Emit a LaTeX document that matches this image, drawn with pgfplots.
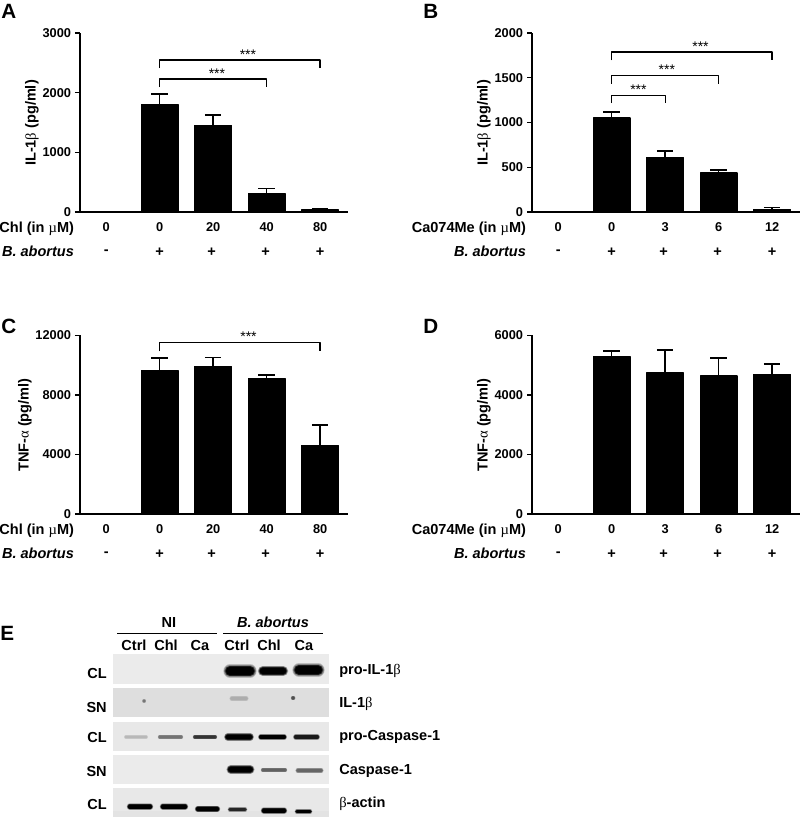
\documentclass[border=0pt]{standalone}
\usepackage{fontspec}
\usepackage{pgfplots}
\pgfplotsset{compat=1.18}
\setmainfont{Liberation Sans}
\newfontfamily\symf{Liberation Serif}
\newcommand\mybeta{{\symf\mdseries β}}
\newcommand\myalpha{{\symf\mdseries α}}
\newcommand\mymu{{\symf\mdseries µ}}
\newcommand\tf{\fontsize{9.6}{11}\selectfont\bfseries}
\newcommand\lf{\fontsize{10.9}{12}\selectfont\bfseries}
\newcommand\starf{\fontsize{10.5}{12}\selectfont}
\pgfplotsset{
  panel/.style={
    scale only axis, width=201pt, clip=false,
    axis x line=bottom, axis y line=left,
    axis line style={line width=1.1pt,-},
    xmin=-0.49, xmax=4.52, ymin=0,
    xtick={0,1,2,3,4},
    major tick length=3.75pt,
    x tick style={draw=none},
    y tick style={line width=1.1pt,black},
    tick align=outside,
    scaled y ticks=false,
    yticklabel style={font=\tf,/pgf/number format/assume math mode=true,/pgf/number format/1000 sep={},xshift=0.6pt},
    xticklabel style={font=\tf,yshift=-0.4pt},
    ybar, bar width=27.6pt, bar shift=0pt,
    every axis plot/.append style={line join=round},
  },
  barp/.style={draw=black,fill=black,line width=1pt,
    error bars/.cd,y dir=plus,y explicit,
    error bar style={line width=1.15pt,black},
    error mark options={rotate=90,mark size=6.2pt,line width=1.15pt,black}},
  brk/.style={sharp plot,draw=black,line width=1.05pt,forget plot,no markers,fill=none},
}
\newcommand\signs{%
  \node[font=\lf,yshift=-30.4pt] at (axis cs:0,0) {-};
  \node[font=\lf,yshift=-30pt] at (axis cs:1,0) {+};
  \node[font=\lf,yshift=-30pt] at (axis cs:1.97,0) {+};
  \node[font=\lf,yshift=-30pt] at (axis cs:2.98,0) {+};
  \node[font=\lf,yshift=-30pt] at (axis cs:4,0) {+};}
\newcommand\rowlab[1]{%
  \node[font=\lf,anchor=east,xshift=-1pt,yshift=-12.6pt] at (axis cs:-0.49,0) {#1};
  \node[font=\lf\itshape,anchor=east,xshift=-1pt,yshift=-29.8pt] at (axis cs:-0.49,0) {B. abortus};}
% x1 x2 y width(px) black%
\newcommand\band[5]{%
  \addplot[line cap=round,line width=#4*1.0pt,black!#5,opacity=0.2,forget plot] coordinates {(#1,#3) (#2,#3)};
  \addplot[line cap=round,line width=#4*0.9pt,black!#5,opacity=0.3,forget plot] coordinates {(#1,#3) (#2,#3)};
  \addplot[line cap=round,line width=#4*0.8pt,black!#5,opacity=0.45,forget plot] coordinates {(#1,#3) (#2,#3)};
  \addplot[line cap=round,line width=#4*0.7pt,black!#5,opacity=0.6,forget plot] coordinates {(#1,#3) (#2,#3)};
  \addplot[line cap=round,line width=#4*0.6pt,black!#5,forget plot] coordinates {(#1,#3) (#2,#3)};}
\newcommand\blot[3]{%
  \addplot[fill=black!#3,draw=none,forget plot] coordinates {(113,#1) (329,#1) (329,#2) (113,#2)} --cycle;}
\begin{document}
\begin{tikzpicture}
\path[use as bounding box] (0,0) rectangle (600pt,613.5pt);

% ---------- A
\begin{axis}[panel,at={(60pt,454.5pt)},anchor=south west,height=134.25pt,ymax=3000,
  ytick={0,1000,2000,3000},
  xticklabels={0,0,20,40,80}]
\addplot[barp] table[x=x,y=y,y error=e] {
x y e
0 0 0
1 1802 175
2 1455 172
3 305 90
4 35 20
};
\addplot[brk] coordinates {(1,2412) (1,2547) (4,2547) (4,2412)};
\addplot[brk] coordinates {(1,2093) (1,2228) (3,2228) (3,2093)};
\node[font=\starf] at (axis cs:2.65,2640) {***};
\node[font=\starf] at (axis cs:2.07,2320) {***};
\rowlab{Chl (in \mymu M)}
\signs
\end{axis}

% ---------- B
\begin{axis}[panel,at={(399pt,454.5pt)},anchor=south west,height=134.25pt,ymax=2000,
  ytick={0,500,1000,1500,2000},
  xticklabels={0,0,3,6,12}]
\addplot[barp] table[x=x,y=y,y error=e] {
x y e
0 0 0
1 1052 67
2 608 75
3 437 33
4 30 22
};
\addplot[brk] coordinates {(1,1694) (1,1787) (4,1787) (4,1694)};
\addplot[brk] coordinates {(1,1433) (1,1522) (3,1522) (3,1433)};
\addplot[brk] coordinates {(1,1216) (1,1302) (2,1302) (2,1216)};
\node[font=\starf] at (axis cs:2.66,1850) {***};
\node[font=\starf] at (axis cs:2.03,1590) {***};
\node[font=\starf] at (axis cs:1.50,1370) {***};
\rowlab{Ca074Me (in \mymu M)}
\signs
\end{axis}

% ---------- C
\begin{axis}[panel,at={(60pt,228pt)},anchor=south west,height=133.9pt,ymax=12000,
  ytick={0,4000,8000,12000},
  xticklabels={0,0,20,40,80}]
\addplot[barp] table[x=x,y=y,y error=e] {
x y e
0 0 0
1 9623 874
2 9914 606
3 9129 224
4 4598 1368
};
\addplot[brk] coordinates {(1,10924) (1,11507) (4,11507) (4,10924)};
\node[font=\starf] at (axis cs:2.66,11900) {***};
\rowlab{Chl (in \mymu M)}
\signs
\end{axis}

% ---------- D
\begin{axis}[panel,at={(399pt,228pt)},anchor=south west,height=133.9pt,ymax=6000,
  ytick={0,2000,4000,6000},
  xticklabels={0,0,3,6,12}]
\addplot[barp] table[x=x,y=y,y error=e] {
x y e
0 0 0
1 5282 202
2 4744 763
3 4643 606
4 4699 348
};
\rowlab{Ca074Me (in \mymu M)}
\signs
\end{axis}

% ---------- overlay in pixel coordinates: letters, y labels and blot (E)
\begin{axis}[at={(0pt,0pt)},anchor=south west,scale only axis,width=600pt,height=613.5pt,
  xmin=0,xmax=800,ymin=0,ymax=818,y dir=reverse,hide axis,clip=false]
\def\lett{\fontsize{15.5}{18}\selectfont\bfseries}
\node[font=\lett,anchor=base west,inner sep=0pt] at (axis cs:1,18) {A};
\node[font=\lett,anchor=base west,inner sep=0pt] at (axis cs:423,18) {B};
\node[font=\lett,anchor=base west,inner sep=0pt] at (axis cs:1,333) {C};
\node[font=\lett,anchor=base west,inner sep=0pt] at (axis cs:423,333) {D};
\node[font=\lett,anchor=base west,inner sep=0pt] at (axis cs:0,640) {E};

\node[font=\lf,rotate=90] at (axis cs:32,123) {IL-1\mybeta{} (pg/ml)};
\node[font=\lf,rotate=90] at (axis cs:484,123) {IL-1\mybeta{} (pg/ml)};
\node[font=\lf,rotate=90] at (axis cs:25,425) {TNF-\myalpha{} (pg/ml)};
\node[font=\lf,rotate=90] at (axis cs:484,425) {TNF-\myalpha{} (pg/ml)};

\blot{654}{684}{8}
\blot{688}{717}{13}
\blot{722}{751}{9}
\blot{755}{784}{8}
\blot{788}{817}{9}
\addplot[fill=black!11,draw=none,forget plot] coordinates {(113,811) (329,811) (329,817) (113,817)} --cycle;

% pro-IL-1b
\band{230}{250}{671}{10}{100}
\band{263}{283}{671}{8}{100}
\band{299}{318}{670}{10}{100}
% IL-1b
\band{232}{246}{698.5}{4}{32}
\band{144}{144.2}{701}{3}{55}
\band{293}{293.2}{698}{3.5}{70}
% pro-Caspase-1
\band{126}{146}{737}{3}{28}
\band{160}{181}{737}{3.5}{55}
\band{195}{215}{737}{3.5}{80}
\band{228}{250}{737}{6}{100}
\band{261}{284}{737}{4.5}{100}
\band{296}{317}{737}{4.5}{90}
% Caspase-1
\band{231}{250}{769.5}{7}{100}
\band{263}{285}{770}{3.5}{62}
\band{298}{321}{770.5}{4}{60}
% actin
\band{130}{150}{806.5}{5}{100}
\band{163}{185}{806.5}{5}{100}
\band{198}{217}{809}{5}{100}
\band{230}{245}{809.5}{3.5}{85}
\band{264}{284}{810.5}{5}{100}
\band{297}{310}{811.5}{3.5}{100}

\addplot[black,line width=0.9pt,forget plot] coordinates {(117,633.5) (217,633.5)};
\addplot[black,line width=0.9pt,forget plot] coordinates {(223,633.5) (323,633.5)};
\node[font=\lf] at (axis cs:169,622) {NI};
\node[font=\lf\itshape] at (axis cs:273,622) {B. abortus};
\node[font=\lf] at (axis cs:134,645) {Ctrl};
\node[font=\lf] at (axis cs:166,645) {Chl};
\node[font=\lf] at (axis cs:200,645) {Ca};
\node[font=\lf] at (axis cs:237,645) {Ctrl};
\node[font=\lf] at (axis cs:269,645) {Chl};
\node[font=\lf] at (axis cs:304,645) {Ca};
\node[font=\lf,anchor=east,inner sep=0pt] at (axis cs:107,673) {CL};
\node[font=\lf,anchor=east,inner sep=0pt] at (axis cs:107,707) {SN};
\node[font=\lf,anchor=east,inner sep=0pt] at (axis cs:107,737) {CL};
\node[font=\lf,anchor=east,inner sep=0pt] at (axis cs:107,771) {SN};
\node[font=\lf,anchor=east,inner sep=0pt] at (axis cs:107,804) {CL};
\node[font=\lf,anchor=west,inner sep=0pt] at (axis cs:339,671) {pro-IL-1\mybeta};
\node[font=\lf,anchor=west,inner sep=0pt] at (axis cs:339,704) {IL-1\mybeta};
\node[font=\lf,anchor=west,inner sep=0pt] at (axis cs:339,737) {pro-Caspase-1};
\node[font=\lf,anchor=west,inner sep=0pt] at (axis cs:339,771) {Caspase-1};
\node[font=\lf,anchor=west,inner sep=0pt] at (axis cs:339,804) {\mybeta-actin};
\end{axis}
\end{tikzpicture}
\end{document}
